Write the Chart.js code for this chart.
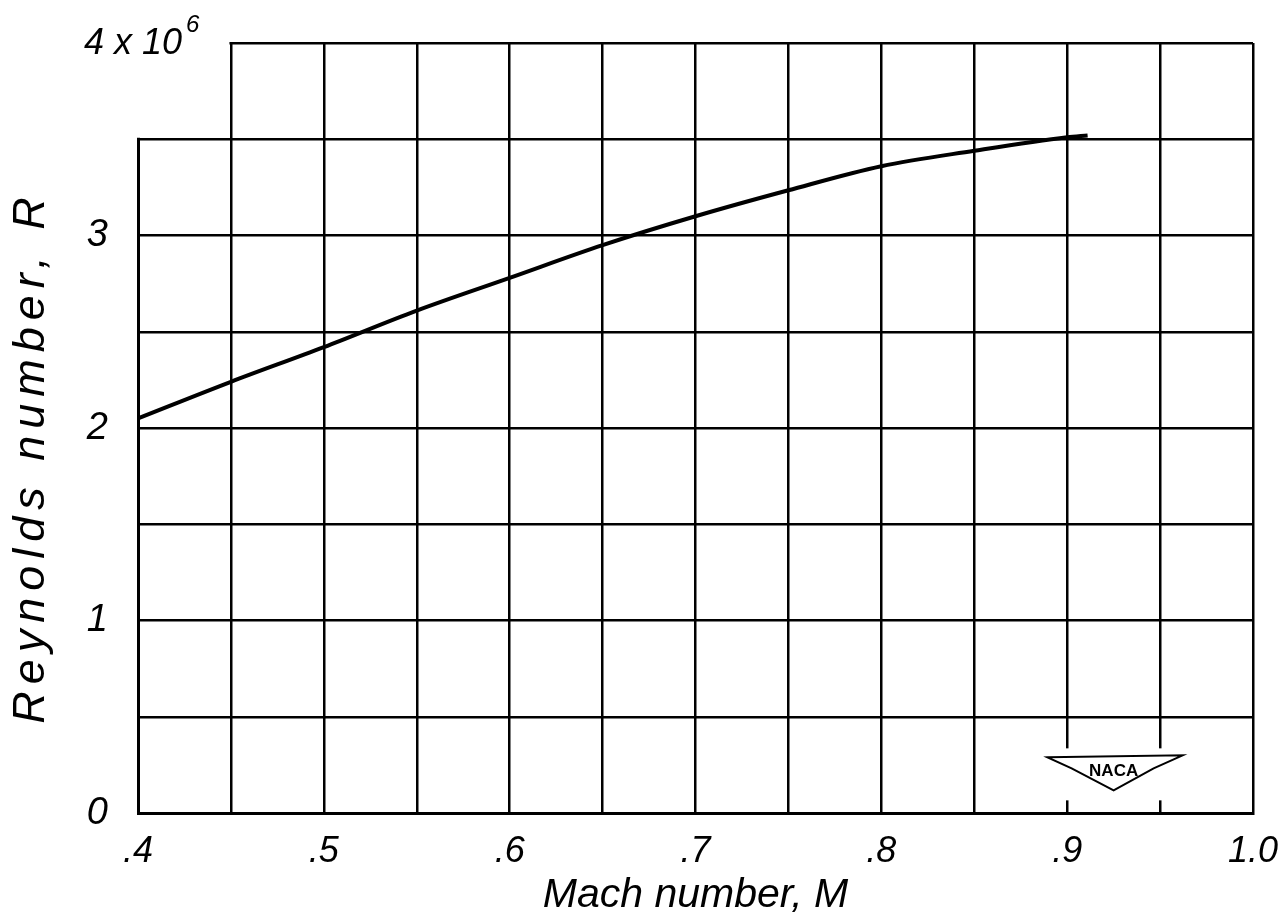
<!DOCTYPE html>
<html>
<head>
<meta charset="utf-8">
<script src="https://cdn.jsdelivr.net/npm/chart.js@4/dist/chart.umd.min.js"></script>
<style>
  html, body { margin: 0; padding: 0; background: #fff; }
  #wrap { width: 1283px; height: 922px; }
</style>
</head>
<body>
<div id="wrap"><canvas id="reynolds_chart"></canvas></div>
<script>
// Mach number (x) and Reynolds number (y, in units of 10^6)
var machNumbers = [0.40, 0.45, 0.50, 0.55, 0.60, 0.65, 0.70, 0.75, 0.80, 0.85, 0.90, 0.911];
var reynoldsMillions = [2.05, 2.24, 2.42, 2.61, 2.78, 2.95, 3.10, 3.235, 3.36, 3.44, 3.51, 3.52];

var xTicks = { min: 0.4, max: 1.0, step: 0.05 };
var yTicks = { min: 0, max: 4e6, step: 0.5e6 };

var FONT = "'Liberation Sans', Arial, sans-serif";

var points = machNumbers.map(function (m, i) {
  return { x: m, y: reynoldsMillions[i] * 1e6 };
});

function noPadding(scale) {
  scale.paddingTop = 0;
  scale.paddingBottom = 0;
  scale.paddingLeft = 0;
  scale.paddingRight = 0;
}

// blank top-left cell, "4 x 10^6" label, y title and NACA logo
var decorations = {
  id: 'decorations',
  beforeDatasetsDraw: function (chart) {
    var ctx = chart.ctx;
    var xs = chart.scales.x, ys = chart.scales.y;
    var l = xs.getPixelForValue(0.4), r = xs.getPixelForValue(0.45);
    var t = ys.getPixelForValue(4e6), b = ys.getPixelForValue(3.5e6);
    ctx.save();
    ctx.fillStyle = '#fff';
    ctx.fillRect(l - 3, t - 3, r - l + 1.5, b - t + 1.5);
    ctx.restore();
  },
  afterDraw: function (chart) {
    var ctx = chart.ctx;
    var xs = chart.scales.x, ys = chart.scales.y;
    ctx.save();
    ctx.fillStyle = '#000';

    // 4 x 10^6
    ctx.font = 'italic 36px ' + FONT;
    ctx.textAlign = 'left';
    ctx.textBaseline = 'alphabetic';
    ctx.fillText('4 x 10', 84, 54);
    var w = ctx.measureText('4 x 10').width;
    ctx.font = 'italic 24px ' + FONT;
    ctx.fillText('6', 84 + w + 4, 32);

    // y axis title
    ctx.save();
    ctx.translate(31, 457);
    ctx.rotate(-Math.PI / 2);
    ctx.font = 'italic 45px ' + FONT;
    ctx.letterSpacing = '7px';
    ctx.textAlign = 'center';
    ctx.textBaseline = 'middle';
    ctx.fillText('Reynolds number, R', 0, 0);
    ctx.restore();

    // NACA logo
    var cx = xs.getPixelForValue(0.925), cy = ys.getPixelForValue(0.18e6);
    ctx.fillStyle = '#fff';
    ctx.fillRect(cx - 74, cy - 30, 148, 52);
    ctx.beginPath();
    ctx.moveTo(cx - 66, cy - 21);
    ctx.lineTo(cx + 69, cy - 23);
    ctx.lineTo(cx + 40, cy - 10);
    ctx.lineTo(cx, cy + 12);
    ctx.lineTo(cx - 42, cy - 10);
    ctx.closePath();
    ctx.lineWidth = 2;
    ctx.strokeStyle = '#000';
    ctx.stroke();
    ctx.fillStyle = '#000';
    ctx.font = 'bold 17px ' + FONT;
    ctx.textAlign = 'center';
    ctx.textBaseline = 'middle';
    ctx.fillText('NACA', cx, cy - 7);
    ctx.restore();
  }
};

var ctx = document.getElementById('reynolds_chart');

var myChart = new Chart(ctx, {
  type: 'scatter',
  data: {
    datasets: [{
      data: points,
      showLine: true,
      borderColor: '#000',
      borderWidth: 4,
      pointRadius: 0,
      cubicInterpolationMode: 'monotone',
      fill: false
    }]
  },
  options: {
    responsive: true,
    maintainAspectRatio: false,
    animation: false,
    layout: { padding: { top: 43, right: 30, left: 0, bottom: 0 } },
    plugins: {
      legend: { display: false },
      tooltip: { enabled: false }
    },
    scales: {
      x: {
        type: 'linear',
        min: xTicks.min,
        max: xTicks.max,
        afterFit: function (scale) { scale.height = 109; noPadding(scale); },
        ticks: {
          stepSize: xTicks.step,
          autoSkip: false,
          maxRotation: 0,
          padding: 17,
          color: '#000',
          font: { family: FONT, size: 36, style: 'italic' },
          callback: function (v) {
            var tenths = v * 10;
            if (Math.abs(tenths - Math.round(tenths)) > 1e-6) return '';
            var n = Math.round(tenths);
            return n >= 10 ? '1.0' : '.' + n;
          }
        },
        grid: { color: '#000', lineWidth: 2.5, drawTicks: false },
        border: { color: '#000', width: 3 },
        title: {
          display: true,
          text: 'Mach number, M',
          color: '#000',
          font: { family: FONT, size: 41, style: 'italic' },
          padding: { top: 0, bottom: 2 }
        }
      },
      y: {
        type: 'linear',
        min: yTicks.min,
        max: yTicks.max,
        afterFit: function (scale) { scale.width = 138; noPadding(scale); },
        ticks: {
          stepSize: yTicks.step,
          autoSkip: false,
          padding: 30,
          color: '#000',
          font: { family: FONT, size: 38, style: 'italic' },
          callback: function (v) {
            var m = v / 1e6;
            if (Math.abs(m - Math.round(m)) > 1e-6 || m >= 4) return '';
            return String(Math.round(m));
          }
        },
        grid: { color: '#000', lineWidth: 2.5, drawTicks: false },
        border: { color: '#000', width: 3 }
      }
    }
  },
  plugins: [decorations]
});
</script>
</body>
</html>
